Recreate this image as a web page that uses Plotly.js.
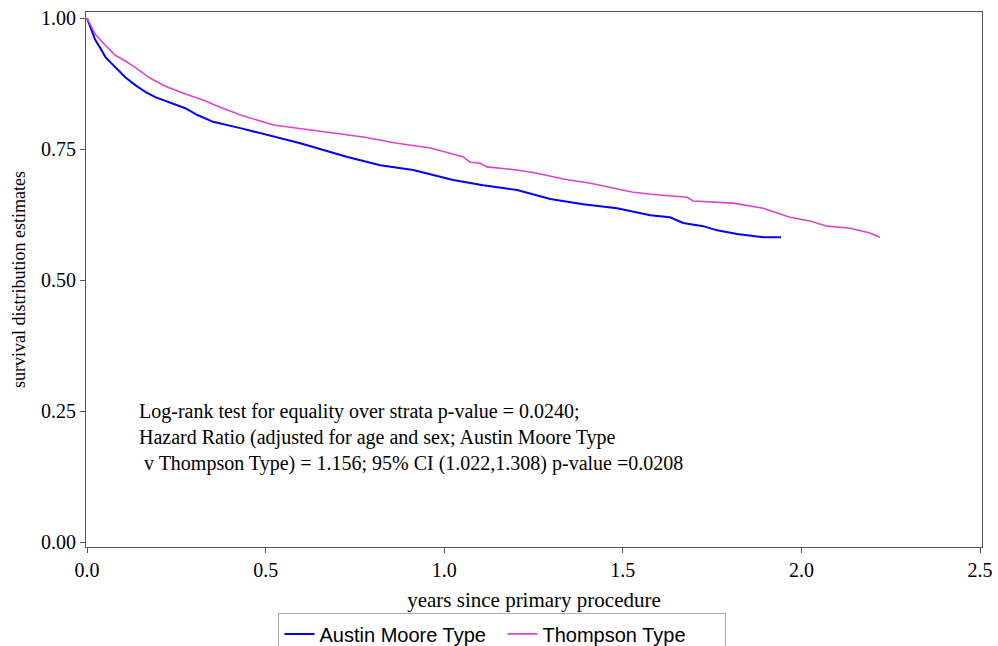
<!DOCTYPE html>
<html>
<head>
<meta charset="utf-8">
<script src="https://cdn.plot.ly/plotly-3.0.1.min.js"></script>
<style>html,body{margin:0;padding:0;background:#fff;}#chart{width:998px;height:646px;}</style>
</head>
<body>
<div id="chart"></div>
<script>
// Austin Moore Type (years, survival)
var amYears = [0.000,0.009,0.023,0.037,0.051,0.065,0.079,0.093,0.107,0.135,0.163,0.191,0.219,0.247,0.275,0.309,0.353,0.429,0.477,0.541,0.597,0.633,0.729,0.821,0.913,1.025,1.109,1.204,1.297,1.389,1.484,1.577,1.632,1.669,1.725,1.764,1.820,1.893,1.943];
var amSurv  = [1.000,0.983,0.958,0.943,0.926,0.916,0.906,0.897,0.887,0.872,0.859,0.849,0.842,0.834,0.828,0.815,0.802,0.790,0.782,0.771,0.761,0.754,0.735,0.719,0.710,0.691,0.681,0.672,0.655,0.645,0.637,0.624,0.620,0.609,0.603,0.595,0.588,0.582,0.582];
// Thompson Type (years, survival)
var thYears = [0.000,0.023,0.051,0.079,0.107,0.135,0.177,0.219,0.275,0.323,0.373,0.429,0.522,0.589,0.681,0.773,0.868,0.961,1.016,1.053,1.073,1.101,1.120,1.204,1.260,1.333,1.409,1.465,1.526,1.577,1.680,1.697,1.809,1.893,1.968,2.024,2.072,2.136,2.192,2.220];
var thSurv  = [1.000,0.969,0.948,0.929,0.918,0.906,0.885,0.870,0.855,0.844,0.830,0.815,0.796,0.790,0.781,0.773,0.761,0.752,0.742,0.735,0.725,0.723,0.716,0.710,0.704,0.693,0.685,0.677,0.668,0.664,0.658,0.651,0.647,0.637,0.620,0.613,0.603,0.599,0.590,0.582];
var seriesNames = ["Austin Moore Type", "Thompson Type"];
var xTickVals = [0, 0.5, 1.0, 1.5, 2.0, 2.5];
var xTickText = ["0.0", "0.5", "1.0", "1.5", "2.0", "2.5"];
var yTickVals = [0, 0.25, 0.5, 0.75, 1.0];
var yTickText = ["0.00", "0.25", "0.50", "0.75", "1.00"];
var noteText = "Log-rank test for equality over strata p-value = 0.0240;<br>Hazard Ratio (adjusted for age and sex; Austin Moore Type<br> v Thompson Type) = 1.156; 95% CI (1.022,1.308) p-value =0.0208";

var serif = "Liberation Serif, Times New Roman, serif";
var traces = [
  {x: amYears, y: amSurv, name: seriesNames[0], mode: "lines", line: {color: "#0000ff", width: 2, shape: "linear"}},
  {x: thYears, y: thSurv, name: seriesNames[1], mode: "lines", line: {color: "#dd44cc", width: 1.6, shape: "linear"}}
];
var layout = {
  width: 998, height: 646,
  margin: {l: 86, r: 16, t: 12, b: 99},
  paper_bgcolor: "#fff", plot_bgcolor: "#fff",
  showlegend: true,
  legend: {orientation: "h", xref: "container", yref: "container", x: 0.5035, xanchor: "center", y: 0.0505, yanchor: "top",
           bordercolor: "#aaaaaa", borderwidth: 1, entrywidth: 178, entrywidthmode: "pixels",
           font: {family: "Liberation Sans, Arial, sans-serif", size: 20, color: "#000"}},
  xaxis: {range: [-0.003, 2.5056], tickvals: xTickVals, ticktext: xTickText, automargin: false,
          showgrid: false, zeroline: false, showline: true, mirror: true, linecolor: "#555", linewidth: 1,
          ticks: "outside", ticklen: 5, tickcolor: "#555",
          tickfont: {family: serif, size: 20, color: "#000"},
          title: {text: "years since primary procedure", font: {family: serif, size: 21, color: "#000"}, standoff: 12}},
  yaxis: {range: [-0.009, 1.0115], tickvals: yTickVals, ticktext: yTickText, automargin: false,
          showgrid: false, zeroline: false, showline: true, mirror: true, linecolor: "#555", linewidth: 1,
          ticks: "outside", ticklen: 5, tickcolor: "#555",
          tickfont: {family: serif, size: 20, color: "#000"},
          title: {text: "survival distribution estimates", font: {family: serif, size: 18, color: "#000"}, standoff: 10}},
  annotations: [
    {xref: "paper", yref: "paper", x: 0.0572, y: 0.279, xanchor: "left", yanchor: "top", align: "left",
     showarrow: false, text: noteText, font: {family: serif, size: 20, color: "#000"}}
  ]
};
Plotly.newPlot("chart", traces, layout, {displayModeBar: false, staticPlot: true});
</script>
</body>
</html>
